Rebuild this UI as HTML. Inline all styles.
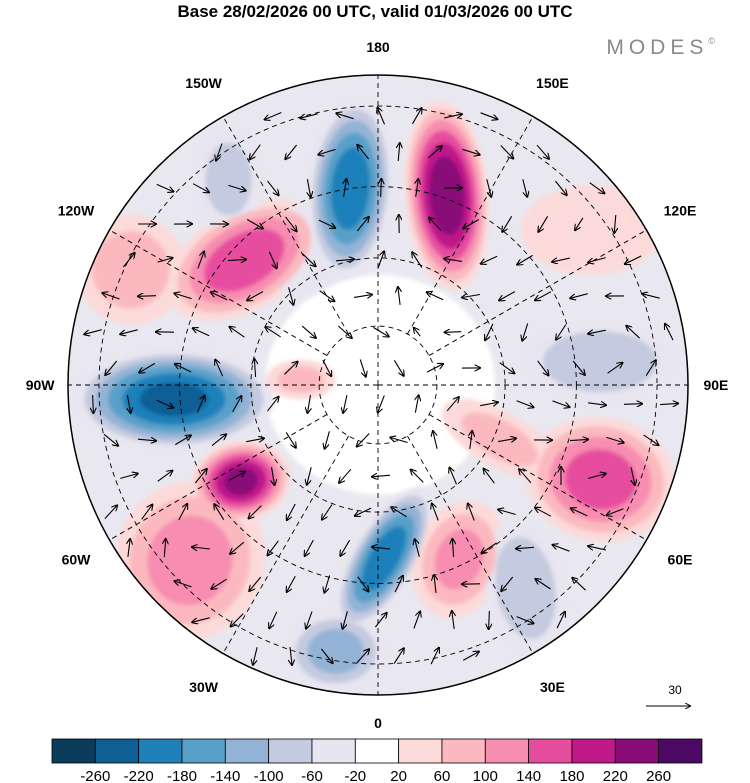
<!DOCTYPE html>
<html><head><meta charset="utf-8">
<style>
body{margin:0;width:750px;height:783px;background:#fff;overflow:hidden;font-family:"Liberation Sans",sans-serif}
svg{position:absolute;left:0;top:0}
</style></head>
<body>
<svg id="chart" width="750" height="783" viewBox="0 0 750 783">
<defs>
<clipPath id="disk"><circle cx="378" cy="385" r="310"/></clipPath>
<filter id="soft"><feGaussianBlur stdDeviation="2"/></filter>
<marker id="ah" markerWidth="6" markerHeight="6" refX="5" refY="3" orient="auto"><path d="M0,0 L6,3 L0,6" fill="none" stroke="#000" stroke-width="1"/></marker>
</defs>
<text x="375" y="17" text-anchor="middle" font-size="17" font-weight="bold">Base 28/02/2026 00 UTC, valid 01/03/2026 00 UTC</text>
<text x="720" y="54" text-anchor="end" font-size="21" fill="#8a8a8a" letter-spacing="5">MODES<tspan font-size="9" dy="-10">©</tspan></text>
<g id="mapg" clip-path="url(#disk)">
<circle cx="378" cy="385" r="310" fill="#e9e8f0"/>
<ellipse cx="380" cy="385" rx="115" ry="110" fill="#fff" filter="url(#soft)"/>
<g id="blobs" filter="url(#soft)"></g>
<g id="grid"></g>
<g id="arrows"></g>
</g>
<circle cx="378" cy="385" r="310" fill="none" stroke="#000" stroke-width="1.5"/>
<g id="lonlabels" font-size="14" font-weight="bold" text-anchor="middle"></g>
<g>
<text x="675" y="694" font-size="12" text-anchor="middle">30</text>
<line x1="646" y1="706" x2="690" y2="706" stroke="#000" marker-end="url(#ah)"/>
</g>
<g id="cbar"></g>
</svg>
<script>
const NS='http://www.w3.org/2000/svg';
const CX=378,CY=385,R=310;
// anomaly centres (longitude deg, distance from pole as fraction of map radius), values, sizes
const blobLon=[-172,160,-133,-86,-55,-47,2,-9,67,96,25,36,66,126,-115,-144,-94,-150];
const blobDist=[0.64,0.65,0.59,0.66,0.54,0.83,0.56,0.87,0.78,0.72,0.62,0.81,0.43,0.85,0.88,0.82,0.25,0.50];
const blobVal=[-210,250,170,-230,230,120,-210,-120,160,-100,110,-90,70,50,80,-70,70,-40];
const blobRx=[42,42,85,100,50,75,32,50,75,75,45,40,65,70,55,35,35,45];
const blobRy=[90,95,50,50,40,80,80,40,62,40,60,70,28,45,55,55,20,45];
const blobRot=[5,-5,-30,0,-10,20,30,0,10,0,20,-10,30,0,-60,0,0,0];
const levels=[-260,-220,-180,-140,-100,-60,-20,20,60,100,140,180,220,260];
const cbLabels=["-260","-220","-180","-140","-100","-60","-20","20","60","100","140","180","220","260"];
const colors=['#0b3c5c','#0f5f95','#1f80ba','#58a0c9','#93b3d6','#c4cadf','#e7e5f0','#ffffff','#fcdad9','#fbb9bf','#f78db0','#e64d9f','#bf198a','#880b78','#4c0a66'];
const lonLabels=["180","150E","120E","90E","60E","30E","0","30W","60W","90W","120W","150W"];
const lonVals=[180,150,120,90,60,30,0,-30,-60,-90,-120,-150];

function px(lon,d){const a=lon*Math.PI/180;return [CX+R*d*Math.sin(a),CY+R*d*Math.cos(a)];}
function colorFor(v){let i=0;while(i<levels.length&&v>levels[i])i++;return colors[i];}

const bg=document.getElementById('blobs');
const items=[];
blobVal.forEach((v,i)=>{const av=Math.abs(v);for(let l=20;l<av;l+=40){items.push({i,l,v});}});
items.sort((a,b)=>a.l-b.l);
items.forEach(it=>{
  const [x,y]=px(blobLon[it.i],blobDist[it.i]);
  const av=Math.abs(it.v);const s=Math.pow(1-(it.l-20)/(av+10),0.6);
  const e=document.createElementNS(NS,'ellipse');
  
  
  e.setAttribute('cx',x.toFixed(1));e.setAttribute('cy',y.toFixed(1));
  e.setAttribute('rx',(blobRx[it.i]*s).toFixed(1));e.setAttribute('ry',(blobRy[it.i]*s).toFixed(1));
  e.setAttribute('transform',`rotate(${blobRot[it.i]} ${x.toFixed(1)} ${y.toFixed(1)})`);
  e.setAttribute('fill',colorFor(it.v>0?it.l+1:-it.l-1));
  bg.appendChild(e);
});

const gg=document.getElementById('grid');
[0.19,0.41,0.64,0.9].forEach(d=>{
  const c=document.createElementNS(NS,'circle');
  
  
  c.setAttribute('cx',CX);c.setAttribute('cy',CY);c.setAttribute('r',R*d);
  c.setAttribute('fill','none');c.setAttribute('stroke','#000');c.setAttribute('stroke-dasharray','5,4');c.setAttribute('stroke-width','0.9');
  gg.appendChild(c);
});
lonVals.forEach(lon=>{
  const [x1,y1]=px(lon,lon%90===0?0:0.19);const [x2,y2]=px(lon,1);
  const l=document.createElementNS(NS,'line');
  
  
  l.setAttribute('x1',x1);l.setAttribute('y1',y1);l.setAttribute('x2',x2);l.setAttribute('y2',y2);
  l.setAttribute('stroke','#000');l.setAttribute('stroke-dasharray','5,4');l.setAttribute('stroke-width','0.9');
  gg.appendChild(l);
});

const ag=document.getElementById('arrows');
const centers=blobVal.map((v,i)=>px(blobLon[i],blobDist[i]));
for(let gy=80;gy<710;gy+=36){for(let gx=75;gx<700;gx+=36){
  const ox=gx+((Math.round(gy/36))%2?18:0);
  if(Math.hypot(ox-CX,gy-CY)>298)continue;
  let u=0,w=0;
  centers.forEach((c,i)=>{const dx=ox-c[0],dy=gy-c[1];const d2=dx*dx+dy*dy+400;
    const k=blobVal[i]*Math.exp(-d2/9000)/Math.sqrt(d2);u+=-dy*k;w+=dx*k;});
  const m=Math.hypot(u,w);if(m<0.5)continue;
  const L=Math.min(18,5+m*1.0);
  const l=document.createElementNS(NS,'line');
  
  
  l.setAttribute('x1',(ox-u/m*L/2).toFixed(1));l.setAttribute('y1',(gy-w/m*L/2).toFixed(1));
  l.setAttribute('x2',(ox+u/m*L/2).toFixed(1));l.setAttribute('y2',(gy+w/m*L/2).toFixed(1));
  l.setAttribute('stroke','#000');l.setAttribute('stroke-width','1.1');l.setAttribute('marker-end','url(#ah)');
  ag.appendChild(l);
}}

const lg=document.getElementById('lonlabels');
lonVals.forEach((lon,i)=>{
  const d=(lon%90===0)?1.09:1.125;
  const [x,y]=px(lon,d);
  const t=document.createElementNS(NS,'text');
  
  
  t.setAttribute('x',x.toFixed(1));t.setAttribute('y',(y+5).toFixed(1));
  t.textContent=lonLabels[i];lg.appendChild(t);
});

const cg=document.getElementById('cbar');
const bx0=52,bw=43.33,by=739,bh=24;
colors.forEach((c,i)=>{
  const r=document.createElementNS(NS,'rect');
  
  
  r.setAttribute('x',bx0+i*bw);r.setAttribute('y',by);r.setAttribute('width',bw);r.setAttribute('height',bh);
  r.setAttribute('fill',c);r.setAttribute('stroke','#000');r.setAttribute('stroke-width','0.8');
  cg.appendChild(r);
});
cbLabels.forEach((s,i)=>{
  const t=document.createElementNS(NS,'text');
  
  
  t.setAttribute('x',bx0+(i+1)*bw);t.setAttribute('y',781);t.setAttribute('text-anchor','middle');t.setAttribute('font-size','15');
  t.textContent=s;cg.appendChild(t);
});
</script>
</body></html>
